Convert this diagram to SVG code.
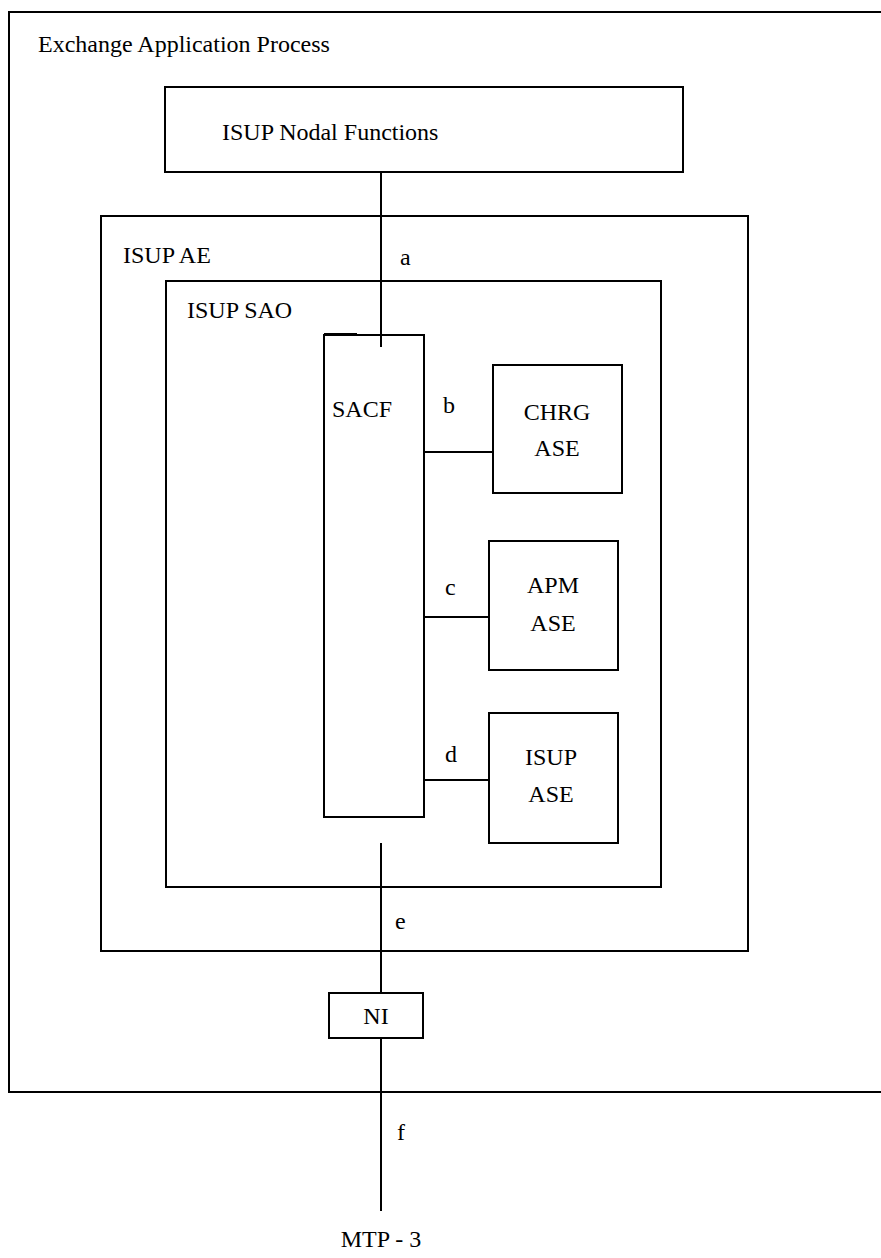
<svg xmlns="http://www.w3.org/2000/svg" width="881" height="1258" viewBox="0 0 881 1258">
<style>
.box{fill:none;stroke:#000;stroke-width:2}
.ln{stroke:#000;stroke-width:2;fill:none}
text{font-family:"Liberation Serif","DejaVu Serif",serif;font-size:24px;fill:#000}
</style>
<rect width="881" height="1258" fill="#fff"/>
<g id="exchange-application-process">
<path class="box" d="M890,12 H9 V1092 H890" stroke-width="2.5"/>
<text x="38" y="52">Exchange Application Process</text>
</g>
<g id="isup-nodal-functions">
<rect class="box" x="165" y="87" width="518" height="85"/>
<text x="222" y="140">ISUP Nodal Functions</text>
</g>
<g id="isup-ae">
<rect class="box" x="101" y="216" width="647" height="735"/>
<text x="123" y="263">ISUP AE</text>
</g>
<g id="isup-sao">
<rect class="box" x="166" y="281" width="495" height="606"/>
<text x="187" y="318">ISUP SAO</text>
</g>
<g id="sacf">
<rect class="box" x="324" y="335" width="100" height="482"/>
<line class="ln" x1="324" y1="334" x2="357" y2="334"/>
<text x="332" y="417">SACF</text>
</g>
<g id="chrg-ase">
<rect class="box" x="493" y="365" width="129" height="128"/>
<text x="557" y="420" text-anchor="middle">CHRG</text>
<text x="557" y="456" text-anchor="middle">ASE</text>
</g>
<g id="apm-ase">
<rect class="box" x="489" y="541" width="129" height="129"/>
<text x="553" y="593" text-anchor="middle">APM</text>
<text x="553" y="631" text-anchor="middle">ASE</text>
</g>
<g id="isup-ase">
<rect class="box" x="489" y="713" width="129" height="130"/>
<text x="551" y="765" text-anchor="middle">ISUP</text>
<text x="551" y="802" text-anchor="middle">ASE</text>
</g>
<g id="ni">
<rect class="box" x="329" y="993" width="94" height="45"/>
<text x="376" y="1024" text-anchor="middle">NI</text>
</g>
<g id="mtp3">
<text x="381" y="1247" text-anchor="middle">MTP - 3</text>
</g>
<g id="connectors">
<line class="ln" x1="381" y1="172" x2="381" y2="347"/>
<text x="400" y="265">a</text>
<line class="ln" x1="424" y1="452" x2="493" y2="452"/>
<text x="443" y="413">b</text>
<line class="ln" x1="424" y1="617" x2="489" y2="617"/>
<text x="445" y="595">c</text>
<line class="ln" x1="424" y1="780" x2="489" y2="780"/>
<text x="445" y="762">d</text>
<line class="ln" x1="381" y1="843" x2="381" y2="993"/>
<text x="395" y="929">e</text>
<line class="ln" x1="381" y1="1038" x2="381" y2="1211"/>
<text x="397" y="1140">f</text>
</g>
</svg>
